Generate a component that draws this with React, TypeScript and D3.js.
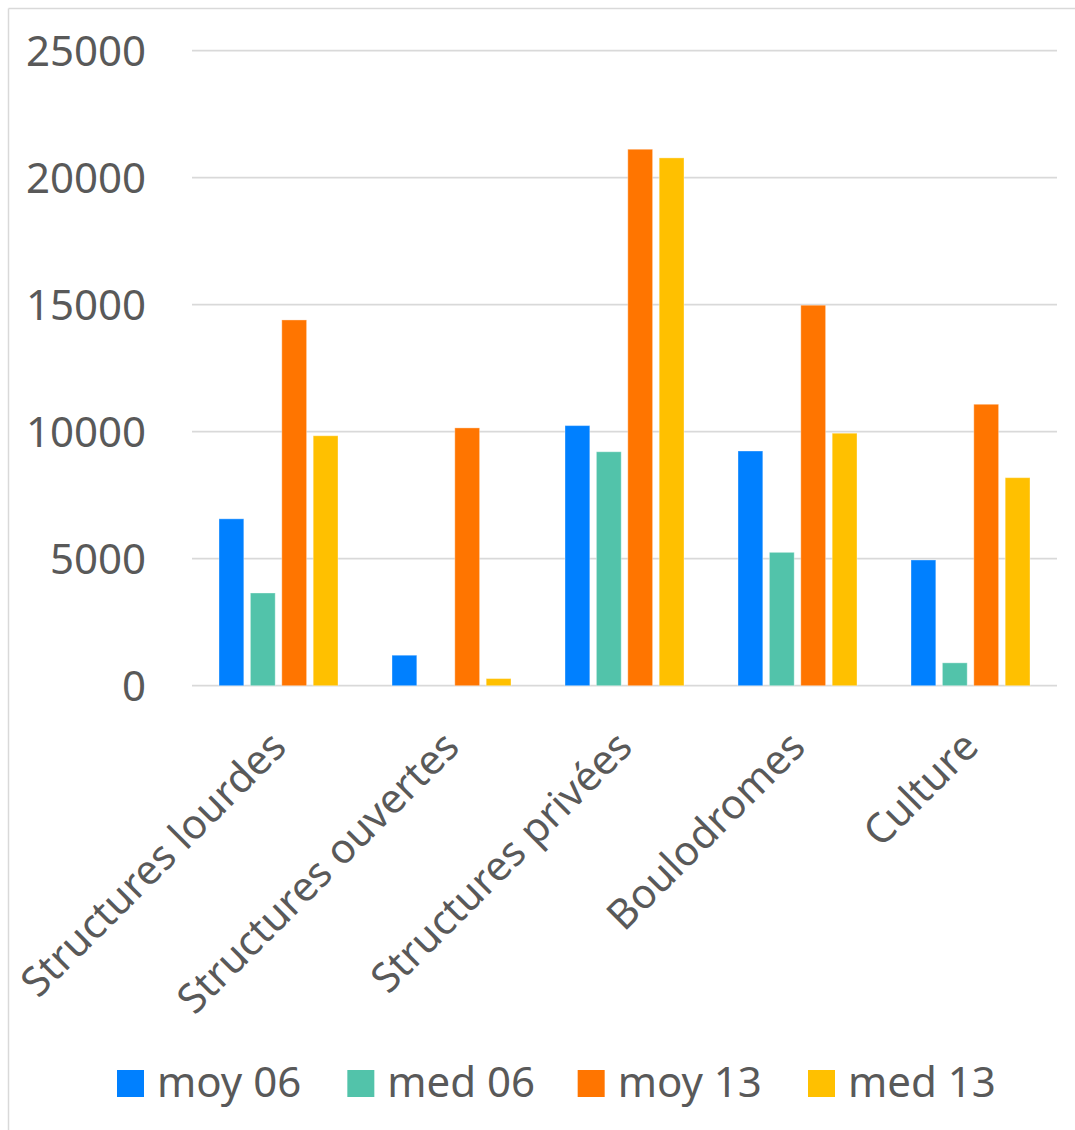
import React from "react";
import * as d3 from "d3";

const categories = ["Structures lourdes", "Structures ouvertes", "Structures privées", "Boulodromes", "Culture"];
const seriesNames = ["moy 06", "med 06", "moy 13", "med 13"];
const moy06 = [6570, 1200, 10240, 9240, 4950];
const med06 = [3650, 0, 9210, 5250, 900];
const moy13 = [14400, 10150, 21120, 14980, 11080];
const med13 = [9840, 280, 20780, 9940, 8190];
const seriesValues = [moy06, med06, moy13, med13];
const colors = ["#0080FF", "#52C3AA", "#FF7500", "#FFC000"];
const yTicks = [0, 5000, 10000, 15000, 20000, 25000];

const W = 1075;
const H = 1130;
const FONT = "'Noto Sans', sans-serif";
const TEXT = "#595959";

export default function App() {
  const x0 = d3.scaleBand<string>().domain(categories).range([192, 1057]).padding(0);
  const x1 = d3.scaleBand<string>().domain(seriesNames).range([27, 146]).paddingInner(0.21);
  const y = d3.scaleLinear().domain([0, 25000]).range([685.7, 50.7]);

  const legendX = d3.scalePoint<string>().domain(seriesNames).range([117, 808]);

  return (
    <svg width={W} height={H} style={{ position: "absolute", left: 0, top: 0 }} xmlns="http://www.w3.org/2000/svg">
      <rect x={0} y={0} width={W} height={H} fill="#fff" />
      <line x1={8.5} y1={8.5} x2={W} y2={8.5} stroke="#d9d9d9" strokeWidth={1.5} />
      <line x1={8.5} y1={8.5} x2={8.5} y2={H} stroke="#d9d9d9" strokeWidth={1.5} />
      {yTicks.map((t) => (
        <g key={t}>
          <line x1={192} x2={1057} y1={y(t)} y2={y(t)} stroke="#d9d9d9" strokeWidth={1.8} />
          <text x={146} y={y(t) + 15} textAnchor="end" fontFamily={FONT} fontSize={42} fill={TEXT}>
            {t}
          </text>
        </g>
      ))}
      {categories.map((c, ci) => (
        <g key={c} transform={`translate(${x0(c)},0)`}>
          {seriesNames.map((s, si) => {
            const v = seriesValues[si][ci];
            if (!v) return null;
            return (
              <rect
                key={s}
                x={x1(s)}
                y={y(v)}
                width={x1.bandwidth()}
                height={y(0) - y(v)}
                fill={colors[si]}
                stroke="#ffffff"
                strokeOpacity={0.35}
                strokeWidth={1}
              />
            );
          })}
        </g>
      ))}
      {categories.map((c) => {
        const cx = (x0(c) as number) + x0.bandwidth() / 2 + 10;
        const cy = 749;
        return (
          <text
            key={c}
            transform={`translate(${cx},${cy}) rotate(-45)`}
            textAnchor="end"
            fontFamily={FONT}
            fontSize={41}
            fill={TEXT}
          >
            {c}
          </text>
        );
      })}
      {seriesNames.map((s, si) => {
        const lx = legendX(s) as number;
        return (
          <g key={s}>
            <rect x={lx} y={1070} width={27} height={27} fill={colors[si]} />
            <text x={lx + 40} y={1097} fontFamily={FONT} fontSize={42} fill={TEXT}>
              {s}
            </text>
          </g>
        );
      })}
    </svg>
  );
}
